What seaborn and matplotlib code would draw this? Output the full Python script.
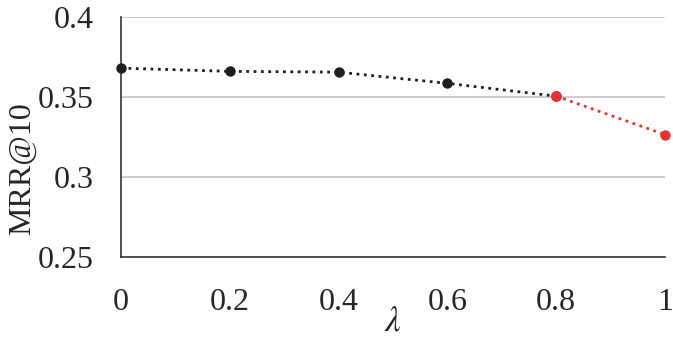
import matplotlib
matplotlib.use("Agg")
import matplotlib.pyplot as plt
import pandas as pd
import seaborn as sns

lam = [0.0, 0.2, 0.4, 0.6, 0.8, 1.0]
mrr = [0.368, 0.366, 0.3655, 0.3585, 0.3505, 0.3265]

sns.set_style("white")
plt.rcParams['font.family'] = ['Liberation Serif', 'DejaVu Serif']
plt.rcParams['mathtext.fontset'] = 'stix'

df = pd.DataFrame({'lam': lam, 'mrr': mrr})
black_part = df.iloc[:5]
red_part = df.iloc[4:]

fig = plt.figure(figsize=(6.73, 3.39), dpi=100)
ax = fig.add_axes([0.180, 0.242, 0.808, 0.708])

ax.axhline(0.3, color='#c8c8c8', lw=1.3, zorder=0)
ax.axhline(0.35, color='#c8c8c8', lw=1.3, zorder=0)
ax.axhline(0.4, color='#c8c8c8', lw=1.3, zorder=0)

sns.lineplot(data=black_part, x='lam', y='mrr', ax=ax, color='#1e1e1e', linestyle=':',
             lw=2, marker='o', markersize=7.5, markeredgewidth=0, zorder=3, clip_on=False)
sns.lineplot(data=red_part, x='lam', y='mrr', ax=ax, color='#ec3030', linestyle=':',
             lw=2, marker='o', markersize=7.5, markeredgewidth=0, zorder=4, clip_on=False)

ax.set_xlim(0, 1)
ax.set_ylim(0.25, 0.4)
ax.set_xticks(lam)
ax.set_xticklabels(['0', '0.2', '0.4', '0.6', '0.8', '1'])
ax.set_yticks([0.25, 0.3, 0.35, 0.4])
ax.set_yticklabels(['0.25', '0.3', '0.35', '0.4'])
ax.tick_params(axis='x', length=0, pad=22, labelsize=23)
ax.tick_params(axis='y', length=0, pad=20, labelsize=23)

for side in ['top', 'right']:
    ax.spines[side].set_visible(False)
for side in ['left', 'bottom']:
    ax.spines[side].set_color('#333333')
    ax.spines[side].set_linewidth(1.2)

ax.set_ylabel('MRR@10', fontsize=23)
ax.yaxis.set_label_coords(-0.155, 0.37)
ax.set_xlabel(r'$\lambda$', fontsize=25, labelpad=-8)

fig.savefig('out.png', dpi=100)
